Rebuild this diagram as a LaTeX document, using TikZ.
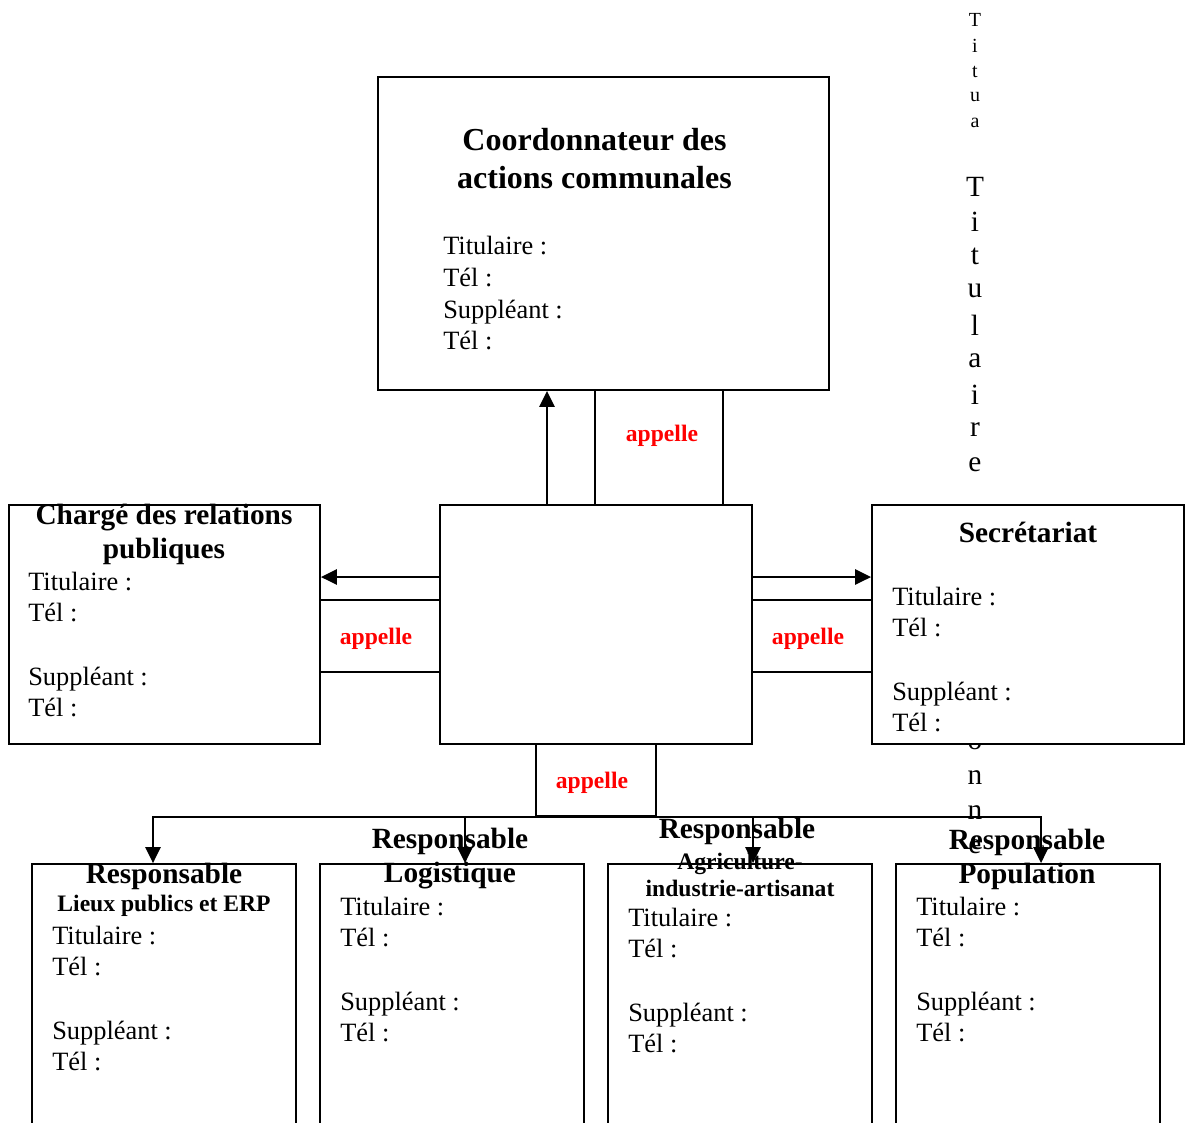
\documentclass[tikz,border=0pt]{standalone}
\usepackage{fontspec}
\setmainfont{Liberation Serif}
\usetikzlibrary{arrows.meta}

\tikzstyle{cadre} = [rectangle, draw, line width=1.4pt, fill=white, inner sep=0pt]
\tikzstyle{rouge} = [text=red, inner sep=0pt, font=\fontsize{17.7}{20}\selectfont\bfseries]
\tikzstyle{champ} = [anchor=base west, inner sep=0pt, font=\fontsize{19.8}{23.6}\selectfont]
\tikzstyle{titre} = [align=center, inner sep=0pt, font=\fontsize{22}{25.5}\selectfont\bfseries]
\tikzstyle{soustitre} = [align=center, inner sep=0pt, font=\fontsize{17.7}{20.3}\selectfont\bfseries]
\tikzstyle{fleche} = [-{Triangle[length=12pt, width=11.5pt]}, line width=1.4pt]
\tikzstyle{lettre} = [inner sep=0pt, font=\fontsize{22}{22}\selectfont]

\begin{document}
\begin{tikzpicture}[x=0.75pt, y=-0.75pt]
  \useasboundingbox (0,0) rectangle (1186,1122);
  \clip (0,0) rectangle (1186,1122);
  \foreach \x [count=\k] in {T,i,t,u,a}
    \node[lettre, font=\fontsize{15}{15}\selectfont] (p\k) at (975, {20 + 25.8*(\k-1)}) {\x};
  \foreach \x [count=\k] in {T,i,t,u,l,a,i,r,e}
    \node[lettre] (g\k) at (975, {187 + 34.7*(\k-1)}) {\x};
  \foreach \x [count=\k] in {o,n,n,e}
    \node[lettre] (h\k) at (975, {743 + 34.7*(\k-1)}) {\x};

  \node[cadre, minimum width=338.25pt, minimum height=234.75pt] (coord) at (603.5,233.5) {};
  \node[cadre, minimum width=234pt, minimum height=179.25pt] (centre) at (596,624.5) {};
  \node[cadre, minimum width=233.25pt, minimum height=179.25pt] (charge) at (164.5,624.5) {};
  \node[cadre, minimum width=234pt, minimum height=179.25pt] (secr) at (1028,624.5) {};
  \foreach \x [count=\k] in {164,452,740,1028}
    \node[cadre, minimum width=198pt, minimum height=207pt] (resp\k) at (\x,1002) {};

  \node[cadre, minimum width=96pt, minimum height=86.25pt] (app1) at (659,447.5) {};
  \node[cadre, minimum width=90pt, minimum height=54pt] (app2) at (380,636) {};
  \node[cadre, minimum width=90pt, minimum height=54pt] (app3) at (812,636) {};
  \node[cadre, minimum width=90pt, minimum height=54pt] (app4) at (596,780) {};
  \node[rouge] (ta1) at (662,436) {appelle};
  \node[rouge] (ta2) at (376,639) {appelle};
  \node[rouge] (ta3) at (808,639) {appelle};
  \node[rouge] (ta4) at (592,783) {appelle};

  \coordinate (a1) at (547,0);
  \coordinate (a2) at (0,577);
  \draw[fleche] (centre.north -| a1) -- (coord.south -| a1);
  \draw[fleche] (centre.west |- a2) -- (charge.east |- a2);
  \draw[fleche] (centre.east |- a2) -- (secr.west |- a2);
  \foreach \x [count=\k] in {153,465,753,1041}
    \coordinate (b\k) at (\x,817);
  \draw[line width=1.4pt, line cap=rect] (b1) -- (b4);
  \foreach \k in {1,...,4}
    \draw[fleche] (b\k) -- (resp\k.north -| b\k);

  \node[titre, font=\fontsize{24}{28.5}\selectfont\bfseries] (tcoord) at (594.5,159) {Coordonnateur des\\actions communales};
  \foreach \d/\txt [count=\k] in {0/Titulaire :, 32/Tél :, 64/Suppléant :, 95/Tél :}
    \node[champ] (coord-\k) at (443, {254+\d}) {\txt};
  \node[titre] (tcharge) at (164,534) {Chargé des relations\\publiques};
  \node[titre] (tsecr) at (1028,532) {Secrétariat};
  \node[titre] (tresp1) at (164,876) {Responsable};
  \node[soustitre] (sresp1) at (164,906) {Lieux publics et ERP};
  \node[titre] (tresp2) at (450,859) {Responsable\\Logistique};
  \node[titre] (tresp3) at (737,831) {Responsable};
  \node[soustitre] (sresp3) at (740,875) {Agriculture-\\industrie-artisanat};
  \node[titre] (tresp4) at (1027,859) {Responsable\\Population};
  \foreach \n/\x/\y in {charge/28/590, secr/892/605, resp1/52/944, resp2/340/915, resp3/628/926, resp4/916/915}
    \foreach \d/\txt [count=\k] in {0/Titulaire :, 31/Tél :, 95/Suppléant :, 126/Tél :}
      \node[champ] (\n-\k) at (\x, {\y+\d}) {\txt};
\end{tikzpicture}
\end{document}
